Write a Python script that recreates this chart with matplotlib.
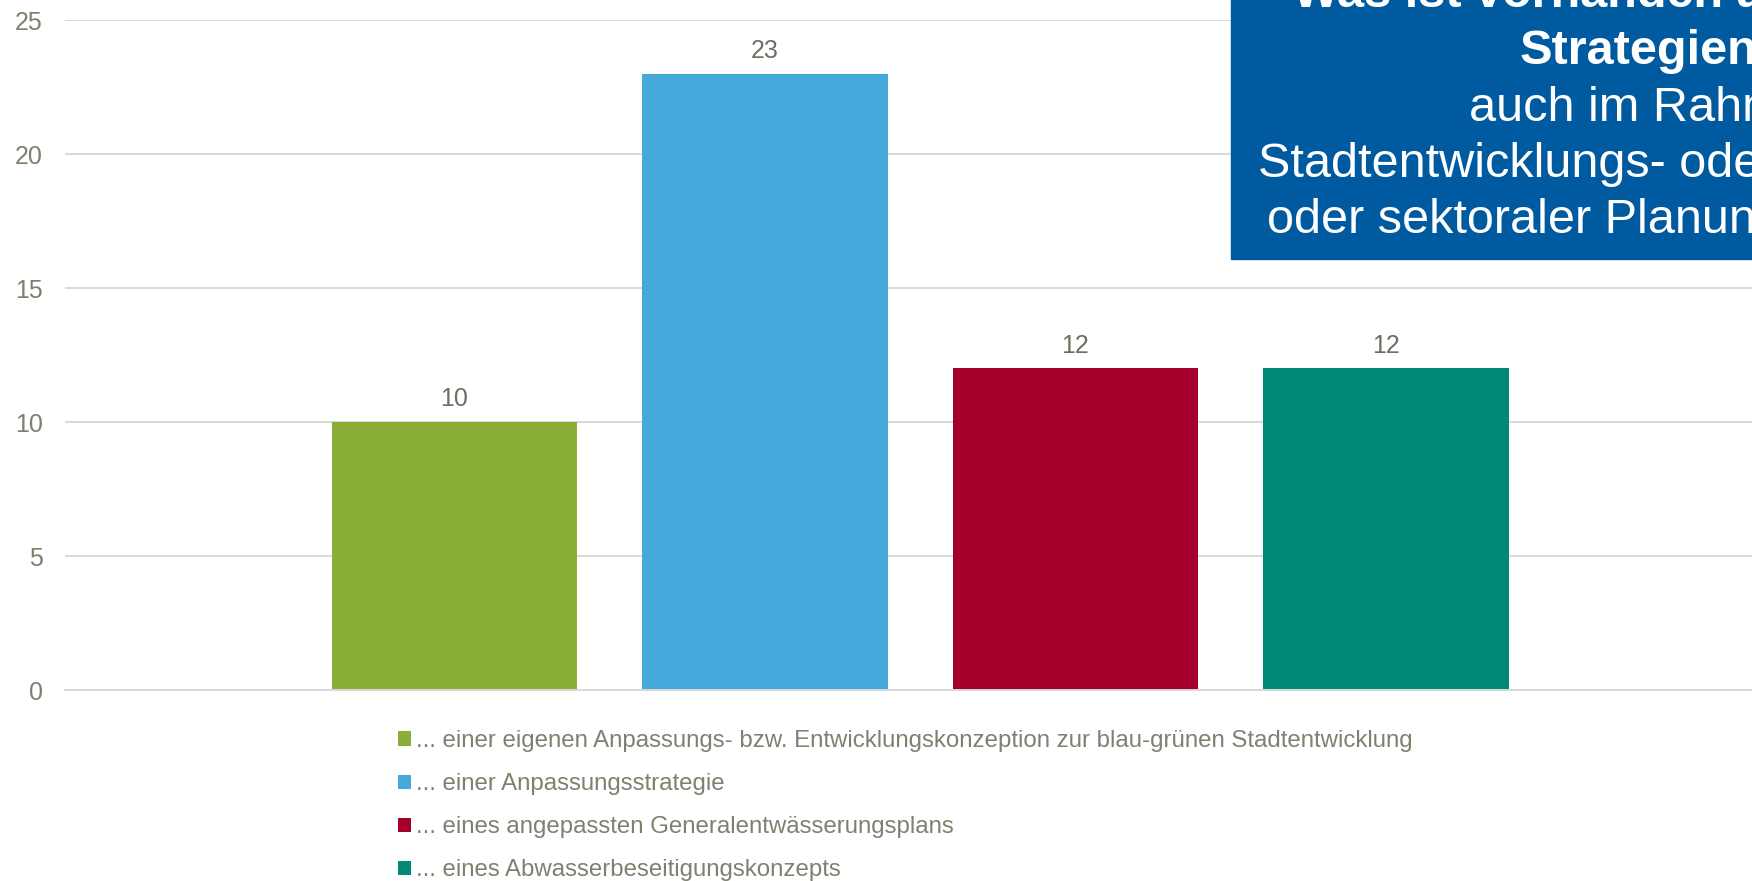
import matplotlib.pyplot as plt

plt.rcParams['font.family'] = ['Liberation Sans', 'DejaVu Sans']

labels = [
    "... einer eigenen Anpassungs- bzw. Entwicklungskonzeption zur blau-grünen Stadtentwicklung",
    "... einer Anpassungsstrategie",
    "... eines angepassten Generalentwässerungsplans",
    "... eines Abwasserbeseitigungskonzepts",
]
values = [10, 23, 12, 12]
colors = ["#8aae37", "#46a9dc", "#a4002b", "#008a76"]
yticks = [0, 5, 10, 15, 20, 25]

box_lines = [
    ("Was ist vorhanden an", "bold"),
    ("Strategien", "bold"),
    ("auch im Rahmen", "normal"),
    ("Stadtentwicklungs- oder", "normal"),
    ("oder sektoraler Planung", "normal"),
]

W, H = 1752, 881
fig = plt.figure(figsize=(W / 100, H / 100), dpi=100)
ax = fig.add_axes([65 / W, (H - 690) / H, (W - 65) / W, (690 - 20) / H])

x = list(range(len(values)))
bars = ax.bar(x, values, width=0.79, color=colors, label=labels, zorder=2)
for xi, v in zip(x, values):
    ax.annotate(str(v), (xi, v), xytext=(0, 16.4), textcoords="offset points",
                ha="center", va="center", fontsize=18, color="#6e6e62")

ax.set_xlim(-1.254, 4.179)
ax.set_ylim(0, 25)
ax.set_yticks(yticks)
ax.set_xticks([])
ax.tick_params(axis="y", length=0, pad=16, labelsize=18, labelcolor="#7f7f6e")
ax.grid(axis="y", color="#d9d9d9", linewidth=1.4, zorder=0)
ax.set_axisbelow(True)
for s in ["top", "right", "left"]:
    ax.spines[s].set_visible(False)
ax.spines["bottom"].set_color("#d9d9d9")
ax.spines["bottom"].set_linewidth(1.4)

fig.legend(handles=bars, labels=labels, loc="upper left",
           bbox_to_anchor=(398 / W, (H - 730) / H), frameon=False,
           borderpad=0, borderaxespad=0, handlelength=0.53, handleheight=0.53,
           handletextpad=0.2, labelspacing=0.88, prop={"size": 17.3},
           labelcolor="#808070")

# blue title box in the upper right corner
fig.patches.append(plt.Rectangle((1231 / W, (H - 259) / H), (W - 1231) / W, 259 / H,
                                 transform=fig.transFigure, color="#005aa0", zorder=5))
line_pos = [(1293, 7), (1520, 64), (1469, 121), (1258, 177), (1267, 233)]
for (txt, weight), (px, py) in zip(box_lines, line_pos):
    fig.text(px / W, (H - py) / H, txt, ha="left", va="baseline", fontsize=35,
             fontweight=weight, color="white", zorder=6)

fig.savefig("out.png", dpi=100)
